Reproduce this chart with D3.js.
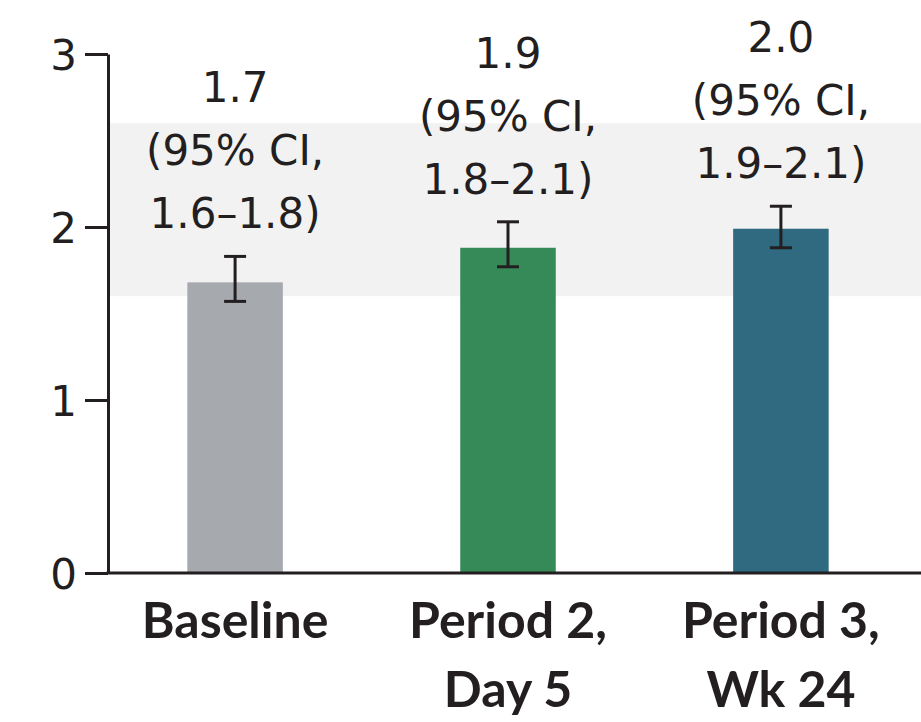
<!DOCTYPE html>
<html>
<head>
<meta charset="utf-8">
<script src="https://cdn.jsdelivr.net/npm/d3@7"></script>
<style>
  html, body { margin: 0; padding: 0; background: #ffffff; }
  svg { display: block; }
</style>
</head>
<body>
<svg id="chart" width="921" height="722"></svg>
<script>
// ---- data ----
const categories = ["Baseline", "Period 2", "Period 3"];
const categoryLines = [["Baseline"], ["Period 2,", "Day 5"], ["Period 3,", "Wk 24"]];
const values = [1.68, 1.88, 1.99];
const ciLow = [1.57, 1.77, 1.88];
const ciHigh = [1.83, 2.03, 2.12];
const annotations = [
  ["1.7", "(95% CI,", "1.6\u20131.8)"],
  ["1.9", "(95% CI,", "1.8\u20132.1)"],
  ["2.0", "(95% CI,", "1.9\u20132.1)"]
];
const yTicks = [0, 1, 2, 3];
const referenceBand = [1.6, 2.6];
const barColors = ["#a6a9ae", "#368a57", "#2f6a80"];

// ---- layout ----
const W = 921, H = 722;
const axisX = 108;
const svg = d3.select("#chart");

const y = d3.scaleLinear().domain([0, 3]).range([573, 54]);
const x = d3.scaleBand().domain(categories).range([100, 916]).paddingInner(0.65).paddingOuter(0.32);

const ink = "#231f20";

// reference band
svg.append("rect")
  .attr("x", axisX)
  .attr("y", y(referenceBand[1]))
  .attr("width", W - axisX)
  .attr("height", y(referenceBand[0]) - y(referenceBand[1]))
  .attr("fill", "#f2f2f2");

// bars
svg.selectAll("rect.bar").data(categories).enter().append("rect")
  .attr("class", "bar")
  .attr("x", d => x(d))
  .attr("width", x.bandwidth())
  .attr("y", (d, i) => y(values[i]))
  .attr("height", (d, i) => y(0) - y(values[i]))
  .attr("fill", (d, i) => barColors[i]);

// error bars
const capHalf = 11;
const eb = svg.append("g").attr("stroke", ink).attr("stroke-width", 3).attr("fill", "none");
categories.forEach((c, i) => {
  const cx = x(c) + x.bandwidth() / 2;
  eb.append("line").attr("x1", cx).attr("x2", cx).attr("y1", y(ciHigh[i])).attr("y2", y(ciLow[i]));
  eb.append("line").attr("x1", cx - capHalf).attr("x2", cx + capHalf).attr("y1", y(ciHigh[i])).attr("y2", y(ciHigh[i]));
  eb.append("line").attr("x1", cx - capHalf).attr("x2", cx + capHalf).attr("y1", y(ciLow[i])).attr("y2", y(ciLow[i]));
});

// annotations
const lineGap = 63;
categories.forEach((c, i) => {
  const cx = x(c) + x.bandwidth() / 2;
  const lastBase = y(ciHigh[i]) - 28;
  const lines = annotations[i];
  const t = svg.append("text")
    .attr("text-anchor", "middle")
    .attr("font-family", "'DejaVu Sans', sans-serif")
    .attr("font-size", 42)
    .attr("fill", ink);
  lines.forEach((l, k) => {
    t.append("tspan")
      .attr("x", cx)
      .attr("y", lastBase - (lines.length - 1 - k) * lineGap)
      .text(l);
  });
});

// y axis
const yAxis = d3.axisLeft(y).tickValues(yTicks).tickFormat(d3.format("d")).tickSize(23).tickSizeOuter(0).tickPadding(8);
const gy = svg.append("g").attr("transform", `translate(${axisX},0)`).call(yAxis);
gy.select(".domain").attr("stroke", ink).attr("stroke-width", 3);
gy.selectAll(".tick line").attr("stroke", ink).attr("stroke-width", 3);
gy.selectAll(".tick text")
  .attr("font-family", "'DejaVu Sans', sans-serif")
  .attr("font-size", 42)
  .attr("fill", ink)
  .attr("dy", "0.36em");

// x axis baseline
svg.append("line")
  .attr("x1", axisX - 1.5).attr("x2", W)
  .attr("y1", y(0)).attr("y2", y(0))
  .attr("stroke", ink).attr("stroke-width", 3);

// category labels
categories.forEach((c, i) => {
  const cx = x(c) + x.bandwidth() / 2;
  const t = svg.append("text")
    .attr("text-anchor", "middle")
    .attr("font-family", "Lato, sans-serif")
    .attr("font-weight", "bold")
    .attr("font-size", 50)
    .attr("fill", ink);
  categoryLines[i].forEach((l, k) => {
    t.append("tspan").attr("x", cx).attr("y", 638 + k * 69).text(l);
  });
});
</script>
</body>
</html>
